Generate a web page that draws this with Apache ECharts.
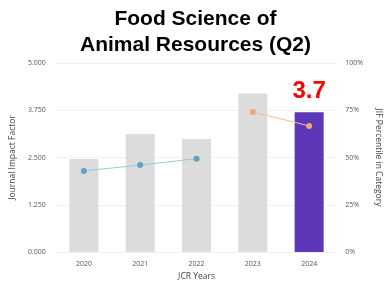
<!DOCTYPE html>
<html>
<head>
<meta charset="utf-8">
<script src="https://cdn.jsdelivr.net/npm/echarts@6/dist/echarts.min.js"></script>
<style>
  html, body { margin: 0; padding: 0; background: #fff; }
  #chart { width: 391px; height: 286px; }
</style>
</head>
<body>
<div id="chart"></div>
<script>
// data
const years = ['2020', '2021', '2022', '2023', '2024']
const impactFactor = [2.46, 3.12, 2.99, 4.19, 3.70]
const percentileEarly = [42.9, 46.0, 49.4, null, null]
const percentileLate = [null, null, null, 74.1, 66.7]
const leftTicks = ['0.000', '1.250', '2.500', '3.750', '5.000']
const rightTicks = ['0%', '25%', '50%', '75%', '100%']
const highlightLabel = '3.7'

let myChart = echarts.init(document.getElementById('chart'))

let barData = impactFactor.map((v, i) => {
  if (i === impactFactor.length - 1) {
    return {
      value: v,
      itemStyle: { color: '#5c38b8' },
      label: {
        show: true,
        position: 'top',
        distance: 9,
        formatter: highlightLabel,
        color: '#ff0000',
        fontSize: 24,
        fontWeight: 'bold',
        fontFamily: 'Liberation Sans, Arial, sans-serif'
      }
    }
  }
  return v
})

let axisLabelStyle = {
  color: '#555',
  fontSize: 7,
  fontFamily: 'Open Sans, sans-serif'
}

myChart.setOption({
  animation: false,
  title: {
    text: 'Food Science of\nAnimal Resources (Q2)',
    left: 'center',
    top: 1,
    textStyle: {
      fontSize: 21,
      fontWeight: 'bold',
      color: '#000',
      lineHeight: 26,
      fontFamily: 'Liberation Sans, Arial, sans-serif'
    }
  },
  grid: {
    left: 51,
    right: 45,
    top: 63,
    bottom: 34
  },
  xAxis: {
    type: 'category',
    data: years,
    name: 'JCR Years',
    nameLocation: 'middle',
    nameGap: 20,
    nameTextStyle: { color: '#444', fontSize: 8.5, fontFamily: 'Open Sans, sans-serif' },
    axisLine: { show: false },
    axisTick: { show: false },
    axisLabel: Object.assign({ margin: 8 }, axisLabelStyle)
  },
  yAxis: [
    {
      type: 'value',
      min: 0,
      max: 5,
      interval: 1.25,
      name: 'Journal Impact Factor',
      nameLocation: 'middle',
      nameGap: 34,
      nameTextStyle: { color: '#444', fontSize: 8.5, fontFamily: 'Open Sans, sans-serif' },
      axisLabel: Object.assign({
        margin: 10,
        formatter: (v) => leftTicks[Math.round(v / 1.25)]
      }, axisLabelStyle),
      splitLine: { lineStyle: { color: '#f0f0f0', width: 1 } }
    },
    {
      type: 'value',
      min: 0,
      max: 100,
      interval: 25,
      name: 'JIF Percentile in Category',
      nameLocation: 'middle',
      nameGap: 32,
      nameRotate: -90,
      nameTextStyle: { color: '#444', fontSize: 8.5, fontFamily: 'Open Sans, sans-serif' },
      axisLabel: Object.assign({
        margin: 8,
        formatter: (v) => rightTicks[Math.round(v / 25)]
      }, axisLabelStyle),
      splitLine: { show: false }
    }
  ],
  series: [
    {
      type: 'bar',
      data: barData,
      barWidth: 29,
      itemStyle: { color: '#dcdcdc' }
    },
    {
      type: 'line',
      yAxisIndex: 1,
      data: percentileEarly,
      symbol: 'circle',
      symbolSize: 6,
      lineStyle: { color: '#9cc7d9', width: 1 },
      itemStyle: { color: '#5fa3bf' }
    },
    {
      type: 'line',
      yAxisIndex: 1,
      data: percentileLate,
      symbol: 'circle',
      symbolSize: 6,
      lineStyle: { color: '#f5bf98', width: 1 },
      itemStyle: { color: '#f2a66e' }
    }
  ]
})
</script>
</body>
</html>
